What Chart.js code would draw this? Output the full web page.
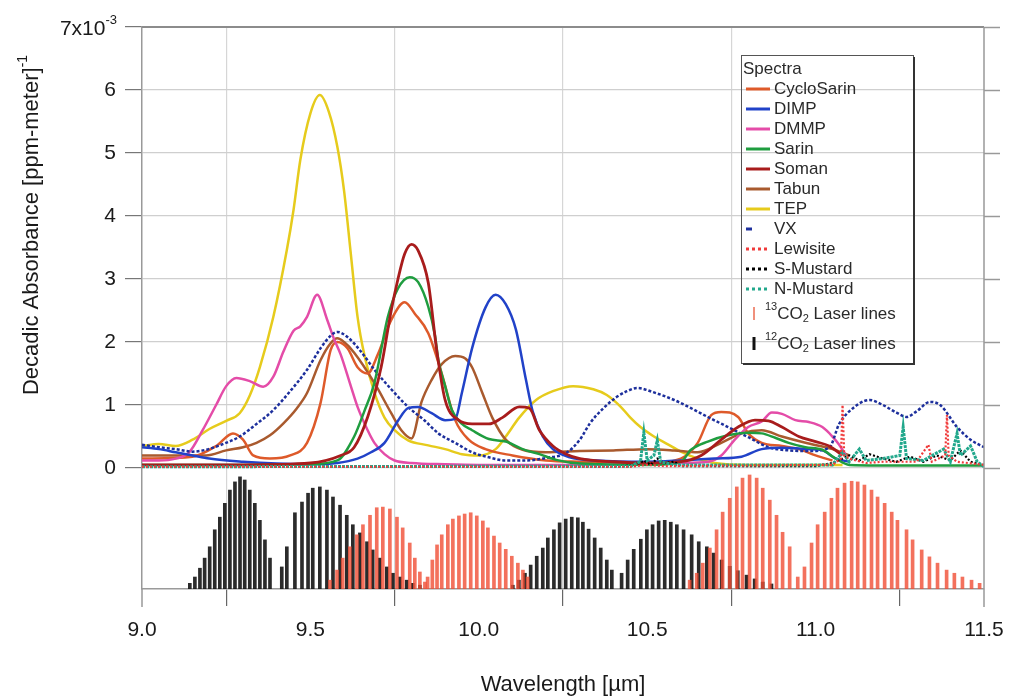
<!DOCTYPE html>
<html><head><meta charset="utf-8">
<script src="https://cdn.jsdelivr.net/npm/chart.js@4.4.1/dist/chart.umd.min.js"></script>
<style>html,body{margin:0;padding:0;background:#fff;}#wrap{position:relative;width:1013px;height:699px;}</style>
</head><body><div id="wrap"><canvas id="c" width="1013" height="699"></canvas></div>
<script>
// ---------- DATA (wavelength in µm, absorbance in 1e-3 (ppm·m)^-1) ----------
const X_TICKS = [9.0, 9.5, 10.0, 10.5, 11.0, 11.5];
const Y_TICKS = [0, 1, 2, 3, 4, 5, 6, 7];
const Y_MIN = -1.92, Y_MAX = 7;
const X_TITLE = 'Wavelength [µm]';
const Y_TITLE = 'Decadic Absorbance [ppm-meter]';
const SERIES_NAMES = ['CycloSarin','DIMP','DMMP','Sarin','Soman','Tabun','TEP','VX','Lewisite','S-Mustard','N-Mustard'];

const CYCLOSARIN = [[9.0,0.15],[9.15,0.18],[9.22,0.35],[9.27,0.55],[9.30,0.45],[9.33,0.2],[9.38,0.15],[9.44,0.2],[9.49,0.4],[9.53,1.03],[9.56,1.87],[9.58,2.0],[9.61,1.9],[9.64,1.6],[9.67,1.5],[9.70,1.8],[9.74,2.35],[9.78,2.63],[9.81,2.45],[9.85,2.14],[9.89,1.5],[9.93,0.76],[9.97,0.45],[10.02,0.3],[10.1,0.2],[10.2,0.12],[10.3,0.1],[10.5,0.08],[10.6,0.15],[10.65,0.4],[10.69,0.84],[10.72,0.89],[10.77,0.81],[10.80,0.55],[10.84,0.4],[10.9,0.35],[10.95,0.3],[11.0,0.2],[11.05,0.12]];
const DIMP = [[9.00,0.33],[9.05,0.30],[9.10,0.25],[9.15,0.2],[9.20,0.15],[9.30,0.1],[9.40,0.07],[9.50,0.06],[9.58,0.08],[9.64,0.15],[9.68,0.25],[9.72,0.4],[9.76,0.75],[9.79,0.95],[9.82,0.97],[9.86,0.87],[9.90,0.76],[9.93,0.78],[9.95,1.2],[9.98,1.9],[10.02,2.55],[10.05,2.75],[10.08,2.6],[10.11,2.2],[10.14,1.4],[10.16,0.9],[10.19,0.5],[10.22,0.3],[10.27,0.17],[10.35,0.12],[10.5,0.1],[10.6,0.12],[10.7,0.15],[10.78,0.18],[10.84,0.3],[10.9,0.32],[10.98,0.3],[11.02,0.28],[11.06,0.15],[11.1,0.1]];
const DMMP = [[9.00,0.12],[9.05,0.12],[9.10,0.15],[9.14,0.25],[9.18,0.6],[9.22,1.0],[9.25,1.3],[9.28,1.43],[9.32,1.38],[9.36,1.29],[9.39,1.45],[9.42,1.85],[9.45,2.18],[9.47,2.25],[9.49,2.4],[9.52,2.75],[9.55,2.35],[9.57,2.05],[9.59,1.8],[9.62,1.3],[9.64,0.97],[9.67,0.6],[9.69,0.4],[9.72,0.22],[9.75,0.12],[9.80,0.08],[9.90,0.06],[10.0,0.05],[10.3,0.05],[10.6,0.08],[10.68,0.1],[10.72,0.2],[10.76,0.45],[10.80,0.65],[10.84,0.74],[10.87,0.88],[10.90,0.86],[10.94,0.76],[10.98,0.73],[11.02,0.65],[11.05,0.5],[11.07,0.37],[11.09,0.2]];
const SARIN = [[9.0,0.05],[9.3,0.05],[9.5,0.06],[9.58,0.12],[9.63,0.5],[9.66,0.9],[9.69,1.35],[9.73,2.4],[9.76,2.85],[9.795,3.03],[9.82,2.95],[9.85,2.56],[9.87,2.1],[9.88,1.71],[9.90,1.3],[9.92,0.92],[9.95,0.7],[9.98,0.6],[10.03,0.46],[10.08,0.42],[10.13,0.3],[10.18,0.22],[10.23,0.13],[10.3,0.07],[10.5,0.05],[10.6,0.1],[10.63,0.29],[10.68,0.42],[10.74,0.52],[10.80,0.56],[10.84,0.55],[10.88,0.48],[10.92,0.4],[10.97,0.33],[11.02,0.29],[11.06,0.15],[11.1,0.05],[11.3,0.04],[11.5,0.04]];
const SOMAN = [[9.0,0.05],[9.3,0.05],[9.5,0.08],[9.59,0.2],[9.63,0.33],[9.67,0.81],[9.71,1.6],[9.74,2.5],[9.76,3.0],[9.78,3.4],[9.80,3.55],[9.82,3.45],[9.85,2.94],[9.875,1.87],[9.90,1.08],[9.94,0.76],[9.98,0.7],[10.03,0.7],[10.07,0.8],[10.12,0.97],[10.15,0.95],[10.18,0.6],[10.22,0.35],[10.26,0.22],[10.3,0.15],[10.4,0.1],[10.5,0.08],[10.6,0.1],[10.66,0.2],[10.72,0.45],[10.77,0.65],[10.82,0.76],[10.86,0.75],[10.90,0.65],[10.95,0.5],[11.0,0.42],[11.04,0.35],[11.08,0.2]];
const TABUN = [[9.0,0.2],[9.1,0.2],[9.19,0.2],[9.25,0.28],[9.30,0.33],[9.34,0.4],[9.38,0.52],[9.42,0.71],[9.46,0.95],[9.49,1.19],[9.53,1.71],[9.56,1.98],[9.58,2.06],[9.60,2.0],[9.63,1.83],[9.69,1.35],[9.74,0.87],[9.77,0.6],[9.80,0.47],[9.83,1.05],[9.86,1.4],[9.89,1.65],[9.93,1.78],[9.96,1.74],[9.98,1.6],[10.01,1.2],[10.04,0.8],[10.08,0.45],[10.13,0.29],[10.2,0.25],[10.3,0.27],[10.4,0.28],[10.5,0.3],[10.58,0.28],[10.65,0.25],[10.72,0.4],[10.78,0.55],[10.84,0.6],[10.9,0.5],[10.97,0.4],[11.05,0.3],[11.1,0.2]];
const TEP = [[9.00,0.35],[9.05,0.38],[9.10,0.35],[9.15,0.45],[9.20,0.62],[9.25,0.75],[9.29,0.87],[9.32,1.15],[9.35,1.6],[9.39,2.4],[9.43,3.46],[9.45,4.1],[9.47,4.89],[9.50,5.63],[9.528,5.92],[9.555,5.65],[9.58,5.1],[9.60,4.4],[9.62,3.4],[9.64,2.4],[9.66,1.8],[9.69,1.2],[9.72,0.8],[9.75,0.6],[9.79,0.44],[9.85,0.36],[9.90,0.3],[9.95,0.22],[10.00,0.2],[10.05,0.3],[10.08,0.5],[10.12,0.8],[10.17,1.08],[10.22,1.22],[10.28,1.3],[10.34,1.25],[10.38,1.16],[10.42,0.98],[10.45,0.8],[10.48,0.65],[10.52,0.5],[10.56,0.38],[10.60,0.26],[10.65,0.15],[10.70,0.08],[10.80,0.05],[10.90,0.05],[11.00,0.05],[11.08,0.05]];
const VX = [[9.00,0.37],[9.05,0.33],[9.10,0.30],[9.15,0.26],[9.19,0.29],[9.24,0.38],[9.29,0.5],[9.34,0.7],[9.39,0.92],[9.44,1.22],[9.49,1.56],[9.53,1.9],[9.56,2.1],[9.58,2.16],[9.61,2.08],[9.65,1.85],[9.69,1.56],[9.74,1.25],[9.79,0.97],[9.84,0.75],[9.88,0.55],[9.93,0.4],[9.98,0.25],[10.03,0.17],[10.08,0.12],[10.14,0.12],[10.2,0.16],[10.26,0.24],[10.30,0.45],[10.33,0.71],[10.37,0.95],[10.41,1.13],[10.44,1.22],[10.47,1.27],[10.52,1.2],[10.58,1.08],[10.63,0.95],[10.68,0.81],[10.74,0.65],[10.80,0.49],[10.86,0.33],[10.92,0.28],[10.98,0.27],[11.04,0.32],[11.07,0.7],[11.1,0.9],[11.16,1.08],[11.20,1.0],[11.24,0.88],[11.27,0.81],[11.30,0.9],[11.34,1.05],[11.37,1.0],[11.42,0.65],[11.46,0.45],[11.5,0.33]];
const LEWISITE = [[9.0,0.02],[10.45,0.02],[10.5,0.05],[10.55,0.03],[11.05,0.05],[11.075,0.15],[11.08,1.0],[11.085,0.2],[11.1,0.15],[11.15,0.08],[11.2,0.1],[11.3,0.1],[11.335,0.37],[11.345,0.1],[11.385,0.2],[11.39,0.84],[11.395,0.2],[11.42,0.1],[11.5,0.05]];
const S_MUSTARD = [[9.0,0.02],[10.4,0.02],[10.47,0.05],[10.49,0.12],[10.51,0.05],[10.53,0.15],[10.55,0.08],[10.58,0.1],[10.6,0.03],[11.0,0.03],[11.05,0.08],[11.08,0.15],[11.1,0.2],[11.13,0.12],[11.16,0.22],[11.2,0.15],[11.24,0.1],[11.28,0.18],[11.32,0.1],[11.36,0.2],[11.4,0.12],[11.43,0.28],[11.46,0.1],[11.5,0.05]];
const N_MUSTARD = [[9.0,0.02],[10.45,0.03],[10.48,0.1],[10.49,0.56],[10.5,0.12],[10.52,0.2],[10.53,0.44],[10.54,0.1],[10.58,0.05],[11.05,0.05],[11.08,0.25],[11.1,0.1],[11.13,0.3],[11.15,0.12],[11.2,0.15],[11.25,0.2],[11.26,0.65],[11.27,0.15],[11.32,0.12],[11.38,0.3],[11.4,0.1],[11.42,0.55],[11.43,0.2],[11.46,0.35],[11.48,0.1],[11.5,0.02]];

// CO2 laser lines: [wavelength, top of line] (drawn down to the axis bottom)
const LASER_12CO2 = [
 [9.142,-1.83],[9.157,-1.73],[9.172,-1.59],[9.186,-1.43],[9.201,-1.25],[9.216,-0.98],[9.231,-0.78],[9.246,-0.56],[9.261,-0.35],[9.276,-0.22],[9.291,-0.14],[9.305,-0.19],[9.320,-0.35],[9.335,-0.56],[9.350,-0.83],[9.365,-1.14],[9.380,-1.43],
 [9.415,-1.57],[9.430,-1.25],[9.454,-0.71],[9.475,-0.54],[9.493,-0.40],[9.507,-0.32],[9.528,-0.30],[9.549,-0.35],[9.567,-0.46],[9.588,-0.59],[9.608,-0.75],[9.626,-0.90],[9.647,-1.03],[9.668,-1.17],[9.685,-1.30],[9.706,-1.43],[9.727,-1.57],[9.745,-1.67],[9.766,-1.73],[9.786,-1.78],[9.804,-1.83],[9.825,-1.86],
 [10.101,-1.86],[10.119,-1.78],[10.137,-1.67],[10.154,-1.54],[10.172,-1.40],[10.190,-1.27],[10.205,-1.11],[10.223,-0.98],[10.240,-0.87],[10.258,-0.81],[10.276,-0.78],[10.294,-0.79],[10.309,-0.86],[10.326,-0.97],[10.344,-1.11],[10.362,-1.27],[10.380,-1.46],[10.395,-1.62],
 [10.424,-1.67],[10.442,-1.46],[10.460,-1.29],[10.481,-1.13],[10.499,-0.98],[10.516,-0.90],[10.534,-0.84],[10.552,-0.83],[10.570,-0.86],[10.588,-0.90],[10.608,-0.98],[10.632,-1.06],[10.653,-1.17],[10.677,-1.25],[10.697,-1.35],[10.721,-1.46],[10.745,-1.56],[10.769,-1.63],[10.795,-1.70],[10.819,-1.76],[10.843,-1.81],[10.869,-1.84]
];
const LASER_13CO2 = [
 [9.558,-1.78],[9.579,-1.62],[9.596,-1.43],[9.617,-1.25],[9.638,-1.06],[9.656,-0.90],[9.677,-0.75],[9.697,-0.63],[9.715,-0.62],[9.736,-0.65],[9.757,-0.78],[9.774,-0.95],[9.795,-1.19],[9.810,-1.43],[9.825,-1.65],[9.840,-1.81],
 [9.848,-1.73],[9.862,-1.46],[9.876,-1.22],[9.890,-1.06],[9.908,-0.90],[9.923,-0.81],[9.941,-0.76],[9.958,-0.73],[9.976,-0.71],[9.994,-0.76],[10.012,-0.84],[10.027,-0.95],[10.045,-1.08],[10.062,-1.19],[10.080,-1.29],[10.098,-1.40],[10.116,-1.51],[10.131,-1.62],[10.145,-1.73],
 [10.626,-1.78],[10.647,-1.67],[10.665,-1.51],[10.686,-1.27],[10.706,-0.98],[10.724,-0.70],[10.745,-0.48],[10.766,-0.30],[10.783,-0.16],[10.804,-0.11],[10.825,-0.16],[10.843,-0.32],[10.864,-0.51],[10.884,-0.75],[10.902,-1.02],[10.923,-1.25],
 [10.947,-1.73],[10.967,-1.57],[10.988,-1.19],[11.006,-0.90],[11.027,-0.70],[11.047,-0.48],[11.065,-0.32],[11.086,-0.24],[11.107,-0.21],[11.125,-0.22],[11.145,-0.27],[11.166,-0.35],[11.184,-0.46],[11.205,-0.56],[11.226,-0.70],[11.243,-0.83],[11.270,-0.98],[11.288,-1.14],[11.315,-1.30],[11.338,-1.41],[11.362,-1.51],[11.389,-1.62],[11.412,-1.67],[11.436,-1.73],[11.463,-1.78],[11.487,-1.83]
];

// ---------- STYLE ----------
const FONT = "'Liberation Sans', Arial, Helvetica, sans-serif";
const STYLES = {
  'CycloSarin': {c:'#de5a2a', w:2.5, dash:[]},
  'DIMP':       {c:'#2142c8', w:2.5, dash:[]},
  'DMMP':       {c:'#e44ca8', w:2.5, dash:[]},
  'Sarin':      {c:'#1f9d3f', w:2.5, dash:[]},
  'Soman':      {c:'#a81c1c', w:2.8, dash:[]},
  'Tabun':      {c:'#a95a2e', w:2.5, dash:[]},
  'TEP':        {c:'#e6cb1c', w:2.5, dash:[]},
  'VX':         {c:'#1d2f9c', w:2.5, dash:[3,2]},
  'Lewisite':   {c:'#f03a3a', w:2.2, dash:[2,2]},
  'S-Mustard':  {c:'#000000', w:2.2, dash:[2,2]},
  'N-Mustard':  {c:'#22a88c', w:3, dash:[3,1]}
};
const SERIES_DATA = {
  'CycloSarin': CYCLOSARIN, 'DIMP': DIMP, 'DMMP': DMMP, 'Sarin': SARIN, 'Soman': SOMAN,
  'Tabun': TABUN, 'TEP': TEP, 'VX': VX, 'Lewisite': LEWISITE, 'S-Mustard': S_MUSTARD, 'N-Mustard': N_MUSTARD
};
const DRAW_ORDER = {'TEP':9,'Tabun':8,'CycloSarin':7,'DMMP':6,'VX':5,'DIMP':4,'Sarin':3,'Soman':2,'S-Mustard':1.5,'N-Mustard':1.2,'Lewisite':1};

const datasets = [];
SERIES_NAMES.forEach(name => {
  const st = STYLES[name];
  const dotted = st.dash.length > 0 && name !== 'VX';
  datasets.push({
    type: 'line', label: name,
    data: SERIES_DATA[name].map(p => ({x: p[0], y: p[1]})),
    borderColor: st.c, borderWidth: st.w, borderDash: st.dash,
    pointRadius: 0, fill: false,
    cubicInterpolationMode: dotted ? 'default' : 'monotone', tension: dotted ? 0 : 0.4,
    order: DRAW_ORDER[name]
  });
});
datasets.push({
  type: 'bar', label: '12CO2',
  data: LASER_12CO2.map(p => ({x: p[0], y: [Y_MIN, p[1]]})),
  backgroundColor: 'rgba(20,20,20,0.9)', borderWidth: 0, barThickness: 3, grouped: false, order: 21
});
datasets.push({
  type: 'bar', label: '13CO2',
  data: LASER_13CO2.map(p => ({x: p[0], y: [Y_MIN, p[1]]})),
  backgroundColor: 'rgba(240,78,52,0.8)', borderWidth: 0, barThickness: 3, grouped: false, order: 20
});

// ---------- helpers for rich text ----------
function richWidth(ctx, parts, size) {
  let w = 0;
  parts.forEach(p => { ctx.font = (p.s ? Math.round(size*0.62) : size) + 'px ' + FONT; w += ctx.measureText(p.t).width; });
  return w;
}
function drawRich(ctx, parts, x, y, size) {
  let cx = x;
  ctx.textBaseline = 'middle'; ctx.textAlign = 'left';
  parts.forEach(p => {
    const fs = p.s ? Math.round(size*0.62) : size;
    ctx.font = fs + 'px ' + FONT;
    const dy = p.s === 'sup' ? -size*0.42 : (p.s === 'sub' ? size*0.32 : 0);
    ctx.fillText(p.t, cx, y + dy);
    cx += ctx.measureText(p.t).width;
  });
}

const decorPlugin = {
  id: 'decor',
  afterDraw(chart) {
    const ctx = chart.ctx, a = chart.chartArea, ys = chart.scales.y;
    ctx.save();
    ctx.fillStyle = '#1a1a1a';
    ctx.strokeStyle = '#8c8c8c'; ctx.lineWidth = 2;
    ctx.beginPath(); ctx.moveTo(a.left, a.top); ctx.lineTo(a.right, a.top); ctx.stroke();
    ctx.lineWidth = 1.5; ctx.strokeStyle = '#999';
    ctx.beginPath(); ctx.moveTo(a.right, a.top); ctx.lineTo(a.right, a.bottom + 18); ctx.stroke();
    ctx.beginPath(); ctx.moveTo(a.left, a.bottom); ctx.lineTo(a.left, a.bottom + 18); ctx.stroke();
    Y_TICKS.forEach(v => {
      const py = Math.round(ys.getPixelForValue(v)) + 0.5;
      ctx.beginPath(); ctx.moveTo(a.right, py); ctx.lineTo(a.right + 16, py); ctx.stroke();
    });
    const p7 = ys.getPixelForValue(7);
    const parts7 = [{t:'7x10'},{t:'-3', s:'sup'}];
    const w7 = richWidth(ctx, parts7, 21);
    drawRich(ctx, parts7, 117 - w7, p7 + 2, 21);
    ctx.save();
    ctx.translate(32, 225); ctx.rotate(-Math.PI/2);
    const pt = [{t: Y_TITLE},{t:'-1', s:'sup'}];
    const wt = richWidth(ctx, pt, 22);
    drawRich(ctx, pt, -wt/2, 0, 22);
    ctx.restore();
    ctx.font = '22px ' + FONT; ctx.textAlign = 'center'; ctx.textBaseline = 'middle';
    ctx.fillText(X_TITLE, (a.left + a.right)/2, 685);
    const L = 741, T = 55, R = 913, B = 363;
    ctx.strokeStyle = '#555'; ctx.lineWidth = 1;
    ctx.strokeRect(L + 0.5, T + 0.5, R - L, B - T);
    ctx.strokeStyle = '#333'; ctx.lineWidth = 2;
    ctx.beginPath(); ctx.moveTo(R + 1, T + 2); ctx.lineTo(R + 1, B + 1); ctx.lineTo(L + 2, B + 1); ctx.stroke();
    ctx.fillStyle = '#2a2a2a';
    ctx.font = '17px ' + FONT; ctx.textAlign = 'left'; ctx.textBaseline = 'middle';
    ctx.fillText('Spectra', 743, 69);
    SERIES_NAMES.forEach((name, i) => {
      const y = 89 + 20*i, st = STYLES[name];
      ctx.strokeStyle = st.c; ctx.lineWidth = 3;
      if (name === 'VX') { ctx.setLineDash([]); ctx.beginPath(); ctx.moveTo(746, y); ctx.lineTo(752, y); ctx.stroke(); }
      else if (st.dash.length) { ctx.setLineDash([3,3]); ctx.beginPath(); ctx.moveTo(746, y); ctx.lineTo(768, y); ctx.stroke(); ctx.setLineDash([]); }
      else { ctx.beginPath(); ctx.moveTo(746, y); ctx.lineTo(770, y); ctx.stroke(); }
      ctx.fillStyle = '#2a2a2a'; ctx.font = '17px ' + FONT;
      ctx.textBaseline = 'middle'; ctx.textAlign = 'left';
      ctx.fillText(name, 774, y);
    });
    ctx.strokeStyle = '#f0907c'; ctx.lineWidth = 2;
    ctx.beginPath(); ctx.moveTo(754, 307); ctx.lineTo(754, 320); ctx.stroke();
    ctx.fillStyle = '#2a2a2a';
    drawRich(ctx, [{t:'13', s:'sup'},{t:'CO'},{t:'2', s:'sub'},{t:' Laser lines'}], 765, 314, 17);
    ctx.strokeStyle = '#111'; ctx.lineWidth = 3;
    ctx.beginPath(); ctx.moveTo(754, 337); ctx.lineTo(754, 350); ctx.stroke();
    drawRich(ctx, [{t:'12', s:'sup'},{t:'CO'},{t:'2', s:'sub'},{t:' Laser lines'}], 765, 344, 17);
    ctx.restore();
  }
};

new Chart(document.getElementById('c'), {
  type: 'line',
  data: { datasets },
  options: {
    responsive: false, animation: false, devicePixelRatio: 1,
    layout: { padding: { top: 27, right: 29, left: 0, bottom: 0 } },
    plugins: { legend: { display: false }, tooltip: { enabled: false } },
    scales: {
      x: {
        type: 'linear', min: 9.0, max: 11.5, offset: false,
        afterBuildTicks: s => { s.ticks = X_TICKS.map(v => ({value: v})); },
        afterFit: s => { s.height = 110; s.paddingLeft = 0; s.paddingRight = 0; },
        ticks: { callback: v => Number(v).toFixed(1), color: '#1a1a1a', font: { family: FONT, size: 21 }, padding: 12, maxRotation: 0 },
        grid: {
          color: c => (c.tick && (c.tick.value === 9 || c.tick.value === 11.5)) ? 'rgba(0,0,0,0)' : '#d6d6d6',
          lineWidth: 1.2, tickColor: '#666', tickLength: 17, drawTicks: true
        },
        border: { display: true, color: '#9a9a9a', width: 1.5 }
      },
      y: {
        type: 'linear', min: Y_MIN, max: Y_MAX,
        afterBuildTicks: s => { s.ticks = Y_TICKS.map(v => ({value: v})); },
        afterFit: s => { s.width = 142; s.paddingTop = 0; s.paddingBottom = 0; },
        ticks: { callback: v => (v === 7 ? '' : String(v)), color: '#1a1a1a', font: { family: FONT, size: 21 }, padding: 9 },
        grid: {
          color: c => (c.tick && (c.tick.value === 7)) ? 'rgba(0,0,0,0)' : '#cfcfcf',
          lineWidth: 1.2, tickColor: '#777', tickLength: 17, drawTicks: true
        },
        border: { display: true, color: '#999', width: 1.5 }
      }
    }
  },
  plugins: [decorPlugin]
});
</script></body></html>
